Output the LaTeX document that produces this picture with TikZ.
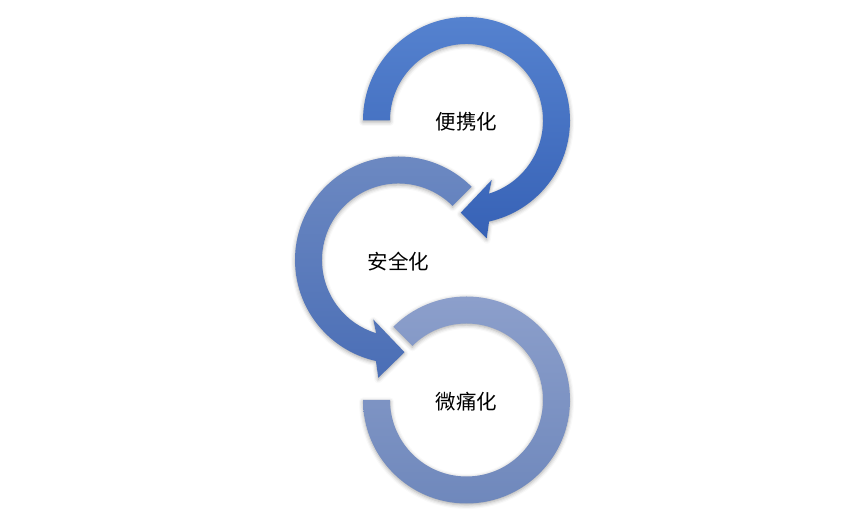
\documentclass[tikz,border=0pt]{standalone}
\usepackage{fontspec}
\newfontfamily\cjk{Noto Sans CJK SC}
\usetikzlibrary{shadows.blur}
\definecolor{topA}{HTML}{5582CF}
\definecolor{topB}{HTML}{3762B6}
\definecolor{midA}{HTML}{6E8AC2}
\definecolor{midB}{HTML}{4A6EB6}
\definecolor{botA}{HTML}{8C9FCB}
\definecolor{botB}{HTML}{6F88BC}
\tikzset{
  arcshape/.style={blur shadow={shadow xshift=0pt,shadow yshift=-1.5pt,shadow blur radius=4pt,shadow opacity=35}},
  lbl/.style={font=\cjk\fontsize{20.5}{24}\selectfont, text=black, inner sep=0pt}
}
\begin{document}
\begin{tikzpicture}[x=1pt,y=1pt]
\useasboundingbox (0,0) rectangle (865,518);
\coordinate (ct) at (466.5,397.5);
\coordinate (cm) at (398.5,258);
\coordinate (cb) at (466.5,118);
% bottom ring
\begin{scope}[shift={(cb)}]
\path[arcshape, top color=botA, bottom color=botB]
  (180:103.5) arc[start angle=180, end angle=495, radius=103.5]
  -- (135:76.5) arc[start angle=135, end angle=-180, radius=76.5] -- cycle;
\end{scope}
% middle arrow
\begin{scope}[shift={(cm)}]
\path[arcshape, top color=midA, bottom color=midB]
  (45:103.5) arc[start angle=45, end angle=257.4, radius=103.5]
  -- (-20.2,-117.8) -- (6,-92.2) -- (-25.2,-59.5)
  -- (253:76.5) arc[start angle=253, end angle=45, radius=76.5] -- cycle;
\end{scope}
% top arrow
\begin{scope}[shift={(ct)}]
\path[arcshape, top color=topA, bottom color=topB]
  (180:103.5) arc[start angle=180, end angle=-77.4, radius=103.5]
  -- (20.2,-117.8) -- (-5.8,-92.2) -- (25.2,-59.5)
  -- (-73:76.5) arc[start angle=-73, end angle=180, radius=76.5] -- cycle;
\end{scope}
\node[lbl] (t1) at ([yshift=-1pt]ct) {便携化};
\node[lbl] (t2) at ([yshift=-2pt]cm) {安全化};
\node[lbl] (t3) at ([yshift=-1.5pt]cb) {微痛化};
\end{tikzpicture}
\end{document}
